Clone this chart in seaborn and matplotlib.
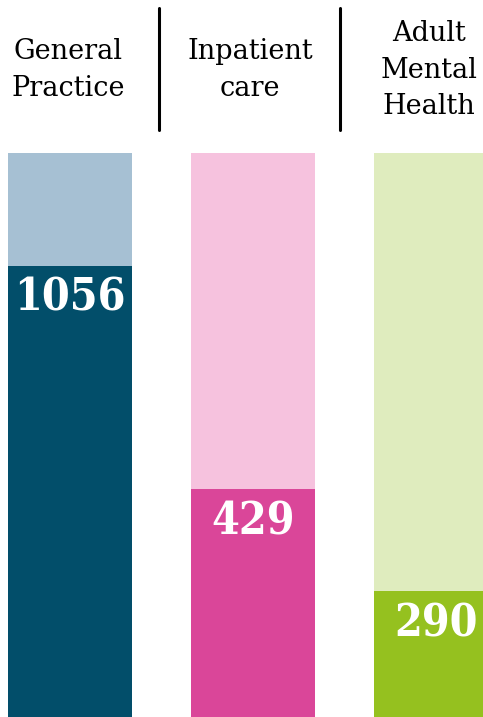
import pandas as pd
import matplotlib
matplotlib.use("Agg")
import matplotlib.pyplot as plt
import seaborn as sns
from matplotlib.lines import Line2D

# data
services = ["General\nPractice", "Inpatient\ncare", "Adult\nMental\nHealth"]
values = [1056, 429, 290]
totals = [1320, 1061, 1298]
light_colors = ["#a6c0d3", "#f6c2de", "#dfecbe"]
dark_colors = ["#024e6a", "#da4699", "#95c11f"]

df = pd.DataFrame({"service": services, "value": values, "total": totals})
df["full"] = df["total"] / df["total"]
df["share"] = df["value"] / df["total"]

sns.set_theme(style="white")

fig = plt.figure(figsize=(4.83, 7.17), dpi=100)
ax = fig.add_axes([0, 0, 1, 564 / 717])

sns.barplot(data=df, x="service", y="full", hue="service", palette=light_colors,
            order=services, width=0.683, legend=False, ax=ax, saturation=1,
            linewidth=0)
sns.barplot(data=df, x="service", y="share", hue="service", palette=dark_colors,
            order=services, width=0.683, legend=False, ax=ax, saturation=1,
            linewidth=0)

ax.set_xlim(-70 / 183, (483 - 70) / 183)
ax.set_ylim(0, 1)
ax.axis("off")

# value labels near the top of each dark bar
for i, row in df.iterrows():
    ax.annotate(f"{row['value']}", xy=(i, row["share"]), xytext=(0, -8),
                textcoords="offset points", ha="center", va="top",
                color="white", fontsize=32, fontweight="bold",
                family="DejaVu Serif", fontstretch="condensed",
                annotation_clip=False)

# column headers (last one pulled in a little so it stays inside the figure)
header_shift = [-2, -3, -7]
for i, name in enumerate(services):
    x_px = ax.transData.transform((i, 0))[0] + header_shift[i]
    fig.text(x_px / fig.bbox.width, 1 - 70 / 717, name, ha="center", va="center",
             fontsize=19.5, family="DejaVu Serif", color="black", linespacing=1.45)

# dividers between headers
for x_px in [158.5, 340]:
    fig.add_artist(Line2D([x_px / 483, x_px / 483], [1 - 8 / 717, 1 - 130 / 717],
                          color="black", linewidth=2.2, transform=fig.transFigure))

fig.savefig("out.png", dpi=100)
